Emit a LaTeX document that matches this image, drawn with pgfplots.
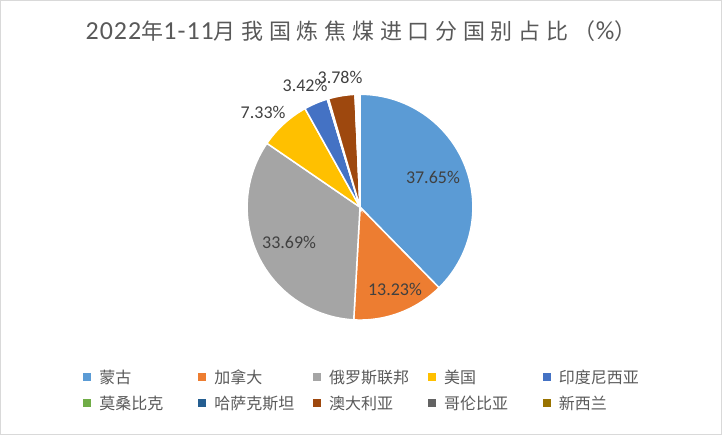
\documentclass[border=0pt]{standalone}
\usepackage{fontspec}
\usepackage{pgfplots}
\pgfplotsset{compat=1.18}
\setmainfont{Carlito}
\newfontfamily\titlelat[LetterSpace=4]{Carlito}
\newfontfamily\cjk{Noto Sans CJK SC}
\newfontfamily\cjkT[LetterSpace=26]{Noto Sans CJK SC}
\definecolor{c1}{HTML}{5B9BD5}
\definecolor{c2}{HTML}{ED7D31}
\definecolor{c3}{HTML}{A5A5A5}
\definecolor{c4}{HTML}{FFC000}
\definecolor{c5}{HTML}{4472C4}
\definecolor{c6}{HTML}{70AD47}
\definecolor{c7}{HTML}{255E91}
\definecolor{c8}{HTML}{9E480E}
\definecolor{c9}{HTML}{636363}
\definecolor{c10}{HTML}{997300}
\definecolor{framec}{HTML}{D9D9D9}
\definecolor{titlec}{HTML}{595959}
\definecolor{legc}{HTML}{595959}
\definecolor{labc}{HTML}{404040}
\newcommand\legtext[1]{\makebox[107bp][l]{\hspace{8bp}\cjk #1}}
\newcommand\tl[1]{{\fontsize{26bp}{28bp}\selectfont\titlelat #1}}
\newcommand\tc[1]{{\fontsize{22bp}{28bp}\selectfont\cjkT #1}}
\begin{document}
\begin{tikzpicture}
\begin{axis}[
  scale only axis, width=722bp, height=434bp,
  xmin=0, xmax=722, ymin=0, ymax=434,
  axis lines=box, ticks=none,
  axis line style={draw=framec, line width=0.75bp},
  clip=false,
  title={\tl{2022}\tc{年}\tl{1-11}\tc{月我国炼焦煤进口分国别占比（}\tl{\%}\tc{）}},
  title style={at={(0.5,0.9147)}, anchor=center, inner sep=0pt, text=titlec},
  legend columns=5,
  legend style={at={(0.11496,0.16129)}, anchor=north west, draw=none, fill=none,
    inner sep=0pt, column sep=0pt, row sep=0pt, text=legc,
    font=\fontsize{16bp}{19bp}\selectfont,
    nodes={inner sep=0pt, text height=19bp, text depth=7bp, anchor=base west}},
  legend image code/.code={\fill[#1,draw=none] (0bp,2bp) rectangle (8bp,10bp);},
  slice/.style={fill=#1, draw=white, line width=1.5bp, samples=60},
]
% shares in %, clockwise from the top: 37.65, 13.23, 33.69, 7.33, 3.42, 0.02, 0.02, 3.78, 0.02, 0.02
\addplot[slice=c1, domain=90-3.6*37.65:90] ({360+113*cos(x)},{227+113*sin(x)}) -- (axis cs:360,227) -- cycle;
\addlegendentry{\legtext{蒙古}}
\addplot[slice=c2, domain=90-3.6*50.88:90-3.6*37.65] ({360+113*cos(x)},{227+113*sin(x)}) -- (axis cs:360,227) -- cycle;
\addlegendentry{\legtext{加拿大}}
\addplot[slice=c3, domain=90-3.6*84.57:90-3.6*50.88] ({360+113*cos(x)},{227+113*sin(x)}) -- (axis cs:360,227) -- cycle;
\addlegendentry{\legtext{俄罗斯联邦}}
\addplot[slice=c4, domain=90-3.6*91.90:90-3.6*84.57] ({360+113*cos(x)},{227+113*sin(x)}) -- (axis cs:360,227) -- cycle;
\addlegendentry{\legtext{美国}}
\addplot[slice=c5, domain=90-3.6*95.32:90-3.6*91.90] ({360+113*cos(x)},{227+113*sin(x)}) -- (axis cs:360,227) -- cycle;
\addlegendentry{\legtext{印度尼西亚}}
\addplot[slice=c6, domain=90-3.6*95.34:90-3.6*95.32] ({360+113*cos(x)},{227+113*sin(x)}) -- (axis cs:360,227) -- cycle;
\addlegendentry{\legtext{莫桑比克}}
\addplot[slice=c7, domain=90-3.6*95.36:90-3.6*95.34] ({360+113*cos(x)},{227+113*sin(x)}) -- (axis cs:360,227) -- cycle;
\addlegendentry{\legtext{哈萨克斯坦}}
\addplot[slice=c8, domain=90-3.6*99.30:90-3.6*95.52] ({360+113*cos(x)},{227+113*sin(x)}) -- (axis cs:360,227) -- cycle;
\addlegendentry{\legtext{澳大利亚}}
\addplot[slice=c9, domain=90-3.6*99.32:90-3.6*99.30] ({360+113*cos(x)},{227+113*sin(x)}) -- (axis cs:360,227) -- cycle;
\addlegendentry{\legtext{哥伦比亚}}
\addplot[slice=c10, domain=90-3.6*99.34:90-3.6*99.32] ({360+113*cos(x)},{227+113*sin(x)}) -- (axis cs:360,227) -- cycle;
\addlegendentry{\legtext{新西兰}}
% data labels
\addplot[only marks, mark=*, mark size=0pt, mark options={draw=none, fill=none},
  nodes near coords, point meta=explicit symbolic, forget plot,
  nodes near coords style={anchor=center, inner sep=0pt, text=labc,
    font=\fontsize{18bp}{20bp}\selectfont}]
  coordinates {
  (433,257) [37.65\%]
  (395,145) [13.23\%]
  (289,192) [33.69\%]
  (263,322) [7.33\%]
  (305,349) [3.42\%]
  (340,357) [3.78\%]
  };
\end{axis}
\end{tikzpicture}
\end{document}
